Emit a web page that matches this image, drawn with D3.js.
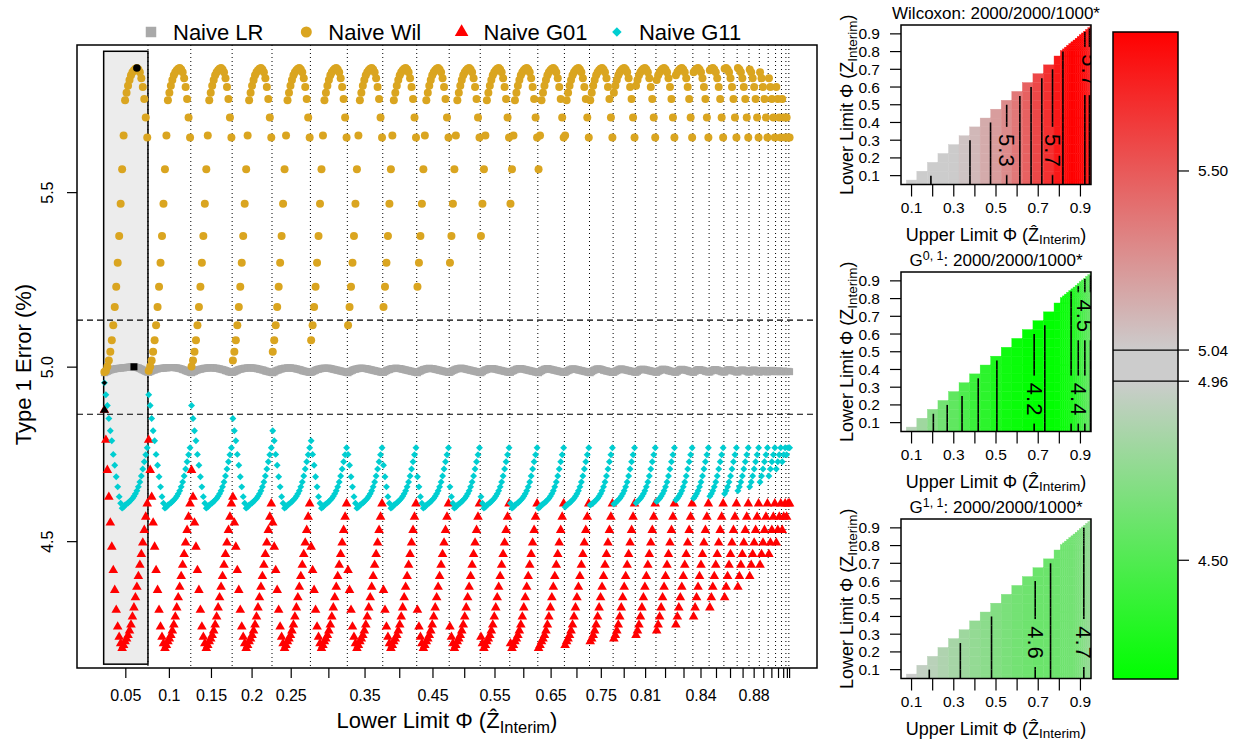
<!DOCTYPE html>
<html>
<head>
<meta charset="utf-8">
<script src="https://cdn.jsdelivr.net/npm/d3@7"></script>
<style>
  body { margin: 0; background: #fff; }
  svg { display: block; font-family: "Liberation Sans", Arial, Helvetica, sans-serif; }
</style>
</head>
<body>
<svg id="chart" width="1237" height="742"></svg>
<script>
// ---------------------------------------------------------------------------
// Data
// ---------------------------------------------------------------------------
// Grid of Φ(Ẑ_Interim) limits; a design uses lower limit < upper limit
const limitGrid = [0.05, 0.10, 0.15, 0.20, 0.25, 0.30, 0.35, 0.40, 0.45, 0.50, 0.55,
  0.60, 0.65, 0.70, 0.75, 0.80, 0.81, 0.82, 0.83, 0.84, 0.85, 0.86, 0.87, 0.88,
  0.89, 0.90, 0.91, 0.92, 0.93, 0.94, 0.95];
const lowerLimits = limitGrid.slice(0, 30);
const upperLimits = limitGrid.slice(1);

// Lower-limit tick labels that fit on the axis
const lowerTickLabelsShown = ["0.05", "0.1", "0.15", "0.2", "0.25", "0.35", "0.45",
  "0.55", "0.65", "0.75", "0.81", "0.84", "0.88"];

// Type 1 error (%) of the naive tests, one value per upper limit (0.10 … 0.95);
// the lower limit does not change these values
const wilcoxonError = [4.986, 4.990, 5.002, 5.019, 5.044, 5.077, 5.120, 5.172, 5.230,
  5.299, 5.376, 5.468, 5.567, 5.664, 5.765, 5.786, 5.806, 5.823, 5.836, 5.845, 5.851,
  5.855, 5.857, 5.853, 5.845, 5.828, 5.803, 5.768, 5.715, 5.658];
const g01Error = [4.877, 4.791, 4.705, 4.628, 4.554, 4.485, 4.418, 4.361, 4.304, 4.256,
  4.227, 4.208, 4.195, 4.203, 4.214, 4.222, 4.232, 4.245, 4.262, 4.285, 4.311, 4.340,
  4.370, 4.401, 4.433, 4.464, 4.497, 4.533, 4.571, 4.609];
const g11Error = [4.955, 4.921, 4.890, 4.853, 4.818, 4.789, 4.750, 4.719, 4.686, 4.657,
  4.629, 4.610, 4.596, 4.599, 4.605, 4.608, 4.611, 4.615, 4.619, 4.624, 4.630, 4.637,
  4.646, 4.657, 4.671, 4.688, 4.708, 4.729, 4.749, 4.769];

// Naive LR type 1 error (%), one row per lower limit, upper limits ascending
const lrRows = [
  [4.984,4.986,4.988,4.990,4.992,4.993,4.994,4.995,4.996,4.996,4.997,4.997,4.998,4.998,4.999,4.999,5.000,5.000,5.001,5.001,5.001,5.000,4.999,4.998,4.996,4.994,4.992,4.990,4.988,4.986],
  [4.985,4.987,4.989,4.991,4.992,4.994,4.995,4.996,4.996,4.997,4.997,4.998,4.998,4.998,4.999,4.999,4.999,4.999,4.998,4.998,4.997,4.996,4.995,4.993,4.992,4.990,4.988,4.987,4.985],
  [4.984,4.986,4.988,4.990,4.992,4.993,4.994,4.995,4.996,4.997,4.997,4.998,4.998,4.998,4.998,4.998,4.997,4.997,4.996,4.995,4.994,4.993,4.992,4.990,4.989,4.987,4.986,4.985],
  [4.985,4.987,4.989,4.991,4.993,4.994,4.995,4.996,4.997,4.997,4.998,4.998,4.998,4.998,4.997,4.997,4.996,4.995,4.994,4.993,4.992,4.991,4.989,4.988,4.987,4.986,4.985],
  [4.984,4.986,4.989,4.991,4.992,4.994,4.995,4.996,4.997,4.997,4.998,4.998,4.998,4.997,4.997,4.996,4.995,4.994,4.993,4.992,4.990,4.989,4.988,4.987,4.986,4.985],
  [4.985,4.987,4.989,4.991,4.993,4.994,4.995,4.996,4.997,4.997,4.997,4.997,4.997,4.996,4.995,4.994,4.993,4.992,4.991,4.990,4.989,4.988,4.987,4.986,4.985],
  [4.984,4.987,4.989,4.991,4.993,4.994,4.995,4.996,4.997,4.997,4.997,4.996,4.996,4.995,4.994,4.993,4.992,4.991,4.990,4.989,4.988,4.987,4.986,4.985],
  [4.985,4.987,4.990,4.992,4.993,4.995,4.996,4.996,4.997,4.997,4.996,4.996,4.995,4.994,4.993,4.992,4.991,4.990,4.989,4.988,4.987,4.986,4.985],
  [4.984,4.987,4.989,4.991,4.993,4.994,4.995,4.996,4.997,4.996,4.996,4.995,4.994,4.993,4.992,4.991,4.990,4.989,4.988,4.987,4.986,4.985],
  [4.985,4.988,4.990,4.992,4.994,4.995,4.996,4.997,4.997,4.996,4.995,4.994,4.993,4.992,4.991,4.990,4.989,4.988,4.987,4.986,4.985],
  [4.984,4.987,4.990,4.992,4.993,4.995,4.996,4.996,4.996,4.995,4.994,4.993,4.992,4.991,4.990,4.989,4.988,4.987,4.986,4.985],
  [4.985,4.988,4.990,4.992,4.994,4.995,4.996,4.996,4.995,4.994,4.993,4.992,4.991,4.990,4.989,4.988,4.987,4.986,4.985],
  [4.984,4.987,4.990,4.992,4.994,4.995,4.996,4.995,4.994,4.993,4.992,4.991,4.990,4.989,4.988,4.987,4.986,4.985],
  [4.985,4.988,4.990,4.992,4.994,4.995,4.995,4.994,4.993,4.992,4.991,4.990,4.989,4.988,4.987,4.986,4.985],
  [4.984,4.987,4.990,4.992,4.994,4.995,4.995,4.994,4.993,4.991,4.990,4.989,4.988,4.987,4.986,4.985],
  [4.985,4.988,4.990,4.992,4.994,4.995,4.994,4.993,4.992,4.991,4.990,4.989,4.988,4.987,4.986],
  [4.985,4.988,4.991,4.993,4.994,4.994,4.993,4.992,4.991,4.990,4.989,4.988,4.987,4.986],
  [4.985,4.988,4.990,4.992,4.994,4.994,4.993,4.992,4.990,4.989,4.988,4.987,4.986],
  [4.985,4.988,4.991,4.993,4.994,4.993,4.992,4.991,4.990,4.988,4.987,4.986],
  [4.985,4.988,4.991,4.993,4.993,4.992,4.991,4.990,4.988,4.987,4.986],
  [4.986,4.989,4.991,4.993,4.993,4.992,4.990,4.989,4.987,4.986],
  [4.986,4.989,4.992,4.993,4.992,4.991,4.989,4.988,4.986],
  [4.986,4.989,4.991,4.992,4.991,4.990,4.988,4.986],
  [4.986,4.989,4.991,4.992,4.990,4.988,4.986],
  [4.986,4.989,4.991,4.990,4.988,4.986],
  [4.987,4.990,4.991,4.989,4.987],
  [4.987,4.990,4.989,4.987],
  [4.987,4.989,4.987],
  [4.987,4.988],
  [4.987]
];

// Designs marked in black: [lower limit, upper limit]
const markedDesigns = { lr: [0.05, 0.86], wil: [0.05, 0.88], g01: [0.05, 0.10], g11: [0.05, 0.10] };

// Lower limit whose designs are shaded, and the error range the shading spans
const shadedLower = 0.05;
const shadedErrorRange = [4.149, 5.905];

// Tolerance lines around the nominal 5 %
const toleranceLines = [4.865, 5.135];

// Main y-axis ticks
const errorTicks = [4.5, 5.0, 5.5];

// Heat-map axis ticks
const limitTicks = [0.1, 0.2, 0.3, 0.4, 0.5, 0.6, 0.7, 0.8, 0.9];
const limitTickLabelsShown = [0.1, 0.3, 0.5, 0.7, 0.9];

// Colour bar
const neutralBand = [4.96, 5.04];
const colorbarTicks = [4.50, 4.96, 5.04, 5.50];

// Contour levels and the contours that carry a label
const wilLevels = [5.0, 5.1, 5.2, 5.3, 5.4, 5.5, 5.6, 5.7, 5.8];
const g01Levels = [4.2, 4.3, 4.4, 4.5, 4.6, 4.7, 4.8];
const g11Levels = [4.6, 4.7, 4.8, 4.9];
const wilLabels = [{ level: 5.3, upper: 0.55, lower: 0.24 }, { level: 5.7, upper: 0.77, lower: 0.24 }, { level: 5.7, upper: 0.94, lower: 0.69 }];
const g01Labels = [{ level: 4.2, upper: 0.68, lower: 0.23 }, { level: 4.4, upper: 0.89, lower: 0.23 }, { level: 4.5, upper: 0.92, lower: 0.70 }];
const g11Labels = [{ level: 4.6, upper: 0.69, lower: 0.25 }, { level: 4.7, upper: 0.91, lower: 0.25 }];

// ---------------------------------------------------------------------------
// Styling
// ---------------------------------------------------------------------------
const COL = { lr: "#a9a9a9", wil: "#daa520", g01: "#ff0000", g11: "#00ced1" };
const GRAY = "#cccccc";
const svg = d3.select("#chart");

// ---------------------------------------------------------------------------
// Flatten designs: every (lower, upper) pair in lower-major order
// ---------------------------------------------------------------------------
const designs = [];
const segments = [];
lowerLimits.forEach((lo, i) => {
  const start = designs.length + 1;
  for (let j = i + 1; j < limitGrid.length; j++) {
    designs.push({
      idx: designs.length + 1, i, j, lower: lo, upper: limitGrid[j],
      lr: lrRows[i][j - i - 1],
      wil: wilcoxonError[j - 1],
      g01: g01Error[j - 1],
      g11: g11Error[j - 1]
    });
  }
  segments.push({ lower: lo, start, end: designs.length });
});

// ---------------------------------------------------------------------------
// Main panel
// ---------------------------------------------------------------------------
const M = { left: 77, right: 817, top: 45, bottom: 668 };
const n = designs.length;
const x = d3.scaleLinear().domain([1 - 0.04 * (n - 1), n + 0.04 * (n - 1)]).range([M.left, M.right]);
const y = d3.scaleLinear().domain([4.138, 5.923]).range([M.bottom, M.top]);

const gMain = svg.append("g");

// shaded block of designs
const shadedSeg = segments.find(s => s.lower === shadedLower);
gMain.append("rect")
  .attr("x", x(shadedSeg.start - 0.5)).attr("width", x(shadedSeg.end + 0.5) - x(shadedSeg.start - 0.5))
  .attr("y", y(shadedErrorRange[1])).attr("height", y(shadedErrorRange[0]) - y(shadedErrorRange[1]))
  .attr("fill", "#ececec").attr("stroke", "#000").attr("stroke-width", 1.5);

// dotted separators between lower limits
gMain.selectAll("line.sep").data(segments.slice(1)).join("line")
  .attr("x1", d => x(d.start - 0.5)).attr("x2", d => x(d.start - 0.5))
  .attr("y1", M.top).attr("y2", M.bottom)
  .attr("stroke", "#000").attr("stroke-width", 1).attr("stroke-dasharray", "1,3");

// tolerance lines
gMain.selectAll("line.tol").data(toleranceLines).join("line")
  .attr("x1", M.left).attr("x2", M.right)
  .attr("y1", d => y(d)).attr("y2", d => y(d))
  .attr("stroke", "#000").attr("stroke-width", 1.2).attr("stroke-dasharray", "6,4");

// point symbols
const sym = {
  lr: d3.symbol().type(d3.symbolSquare).size(49)(),
  g01: d3.symbol().type(d3.symbolTriangle).size(40)(),
  g11: d3.symbol().type(d3.symbolSquare).size(24)()
};
const pts = gMain.append("g");
pts.selectAll("path.lr").data(designs).join("path")
  .attr("d", sym.lr).attr("fill", COL.lr)
  .attr("transform", d => `translate(${x(d.idx)},${y(d.lr)})`);
pts.selectAll("circle.wil").data(designs).join("circle")
  .attr("cx", d => x(d.idx)).attr("cy", d => y(d.wil)).attr("r", 4).attr("fill", COL.wil);
pts.selectAll("path.g01").data(designs).join("path")
  .attr("d", sym.g01).attr("fill", COL.g01)
  .attr("transform", d => `translate(${x(d.idx)},${y(d.g01)})`);
pts.selectAll("path.g11").data(designs).join("path")
  .attr("d", sym.g11).attr("fill", COL.g11)
  .attr("transform", d => `translate(${x(d.idx)},${y(d.g11)}) rotate(45)`);

// marked designs in black
const findDesign = ([lo, up]) => designs.find(d => Math.abs(d.lower - lo) < 1e-9 && Math.abs(d.upper - up) < 1e-9);
{
  const dl = findDesign(markedDesigns.lr), dw = findDesign(markedDesigns.wil);
  const d1 = findDesign(markedDesigns.g01), d2 = findDesign(markedDesigns.g11);
  pts.append("path").attr("d", sym.lr).attr("fill", "#000").attr("transform", `translate(${x(dl.idx)},${y(dl.lr)})`);
  pts.append("circle").attr("cx", x(dw.idx)).attr("cy", y(dw.wil)).attr("r", 3.8).attr("fill", "#000");
  pts.append("path").attr("d", d3.symbol().type(d3.symbolTriangle).size(34)()).attr("fill", "#000").attr("transform", `translate(${x(d1.idx)},${y(d1.g01)})`);
  pts.append("path").attr("d", d3.symbol().type(d3.symbolSquare).size(14)()).attr("fill", "#000").attr("transform", `translate(${x(d2.idx)},${y(d2.g11)}) rotate(45)`);
}

// frame
gMain.append("rect").attr("x", M.left).attr("y", M.top).attr("width", M.right - M.left).attr("height", M.bottom - M.top)
  .attr("fill", "none").attr("stroke", "#000").attr("stroke-width", 1.5);

// y axis
const yAx = gMain.append("g");
errorTicks.forEach(t => {
  yAx.append("line").attr("x1", M.left - 10).attr("x2", M.left).attr("y1", y(t)).attr("y2", y(t)).attr("stroke", "#000").attr("stroke-width", 1.2);
  yAx.append("text").attr("transform", `translate(53,${y(t)}) rotate(-90)`).attr("text-anchor", "middle")
    .attr("font-size", 16).text(d3.format(".1f")(t));
});
gMain.append("text").attr("transform", `translate(31,${(M.top + M.bottom) / 2 + 8}) rotate(-90)`)
  .attr("text-anchor", "middle").attr("font-size", 22).text("Type 1 Error (%)");

// x axis: one tick per lower limit
const xAx = gMain.append("g");
segments.forEach(s => {
  const cx = x((s.start + s.end) / 2);
  xAx.append("line").attr("x1", cx).attr("x2", cx).attr("y1", M.bottom).attr("y2", M.bottom + 10).attr("stroke", "#000").attr("stroke-width", 1.2);
  const lab = String(s.lower);
  if (lowerTickLabelsShown.includes(lab)) {
    xAx.append("text").attr("x", cx).attr("y", 700.5).attr("text-anchor", "middle").attr("font-size", 16).text(lab);
  }
});

// axis title with hat and subscript
function limitTitle(textSel, prefix, fs, hat) {
  textSel.append("tspan").text(prefix + " Φ (");
  textSel.append("tspan").text(hat ? "Ẑ" : "Z");
  textSel.append("tspan").attr("font-size", fs * 0.75).attr("dy", fs * 0.22).text("Interim");
  textSel.append("tspan").attr("dy", -fs * 0.22).text(")");
}
limitTitle(gMain.append("text").attr("x", (M.left + M.right) / 2).attr("y", 728)
  .attr("text-anchor", "middle").attr("font-size", 22), "Lower Limit", 22, true);

// legend
const legendItems = [
  { key: "lr", label: "Naive LR" }, { key: "wil", label: "Naive Wil" },
  { key: "g01", label: "Naive G01" }, { key: "g11", label: "Naive G11" }
];
const lg = svg.append("g");
legendItems.forEach((it, k) => {
  const sx = 151 + k * 155.3, sy = 32;
  if (it.key === "lr") lg.append("path").attr("d", d3.symbol().type(d3.symbolSquare).size(110)()).attr("fill", COL.lr).attr("transform", `translate(${sx},${sy})`);
  if (it.key === "wil") lg.append("circle").attr("cx", sx).attr("cy", sy).attr("r", 5.5).attr("fill", COL.wil);
  if (it.key === "g01") lg.append("path").attr("d", d3.symbol().type(d3.symbolTriangle).size(80)()).attr("fill", COL.g01).attr("transform", `translate(${sx},${sy})`);
  if (it.key === "g11") lg.append("path").attr("d", d3.symbol().type(d3.symbolSquare).size(45)()).attr("fill", COL.g11).attr("transform", `translate(${sx},${sy}) rotate(45)`);
  lg.append("text").attr("x", sx + 22).attr("y", sy + 8).attr("font-size", 22).text(it.label);
});

// ---------------------------------------------------------------------------
// Colour scale shared by heat maps and colour bar
// ---------------------------------------------------------------------------
const allHeat = wilcoxonError.concat(g01Error, g11Error);
const zMin = d3.min(allHeat), zMax = d3.max(allHeat);
function errColor(v) {
  if (v > neutralBand[1]) return d3.interpolateRgb(GRAY, "#ff0000")((v - neutralBand[1]) / (zMax - neutralBand[1]));
  if (v < neutralBand[0]) return d3.interpolateRgb(GRAY, "#00ff00")((neutralBand[0] - v) / (neutralBand[0] - zMin));
  return GRAY;
}

// ---------------------------------------------------------------------------
// Heat-map panels
// ---------------------------------------------------------------------------
const cellLow = k => k === 0 ? limitGrid[0] - (limitGrid[1] - limitGrid[0]) / 2 : (limitGrid[k - 1] + limitGrid[k]) / 2;
const cellHigh = k => k === limitGrid.length - 1 ? limitGrid[k] + (limitGrid[k] - limitGrid[k - 1]) / 2 : (limitGrid[k] + limitGrid[k + 1]) / 2;

function contourSegments(vals, level) {
  const segs = [];
  const G = limitGrid;
  for (let j = 1; j < G.length - 1; j++) {
    for (let i = 0; i + 1 < j; i++) {
      const c = [[G[j], G[i], vals[j - 1]], [G[j + 1], G[i], vals[j]], [G[j + 1], G[i + 1], vals[j]], [G[j], G[i + 1], vals[j - 1]]];
      const p = [];
      for (let e = 0; e < 4; e++) {
        const a = c[e], b = c[(e + 1) % 4];
        if ((a[2] < level) !== (b[2] < level)) {
          const t = (level - a[2]) / (b[2] - a[2]);
          p.push([a[0] + t * (b[0] - a[0]), a[1] + t * (b[1] - a[1])]);
        }
      }
      if (p.length === 2) segs.push(p);
      else if (p.length === 4) { segs.push([p[0], p[1]]); segs.push([p[2], p[3]]); }
    }
  }
  return segs;
}

function heatPanel(id, top, titleParts, vals, levels, labels) {
  const P = { left: 901, right: 1091, top, bottom: top + 159.5 };
  const hx = d3.scaleLinear().domain([0.05, 0.95]).range([P.left, P.right]);
  const hy = d3.scaleLinear().domain([0.05, 0.95]).range([P.bottom, P.top]);
  const g = svg.append("g");
  const defs = svg.append("defs");
  defs.append("clipPath").attr("id", "clip" + id).append("rect")
    .attr("x", P.left).attr("y", P.top).attr("width", P.right - P.left).attr("height", P.bottom - P.top);

  const body = g.append("g").attr("clip-path", `url(#clip${id})`);
  const cells = [];
  for (let i = 0; i < lowerLimits.length; i++)
    for (let j = i + 1; j < limitGrid.length; j++) cells.push({ i, j, v: vals[j - 1] });
  body.selectAll("rect").data(cells).join("rect")
    .attr("x", d => hx(cellLow(d.j))).attr("width", d => hx(cellHigh(d.j)) - hx(cellLow(d.j)))
    .attr("y", d => hy(cellHigh(d.i))).attr("height", d => hy(cellLow(d.i)) - hy(cellHigh(d.i)))
    .attr("fill", d => errColor(d.v)).attr("stroke", d => errColor(d.v)).attr("stroke-width", 0.4);

  // contour labels, positioned on their contour line
  const fsLab = 22;
  const placed = [];
  labels.forEach(lb => {
    const segs = contourSegments(vals, lb.level).filter(s => Math.min(s[0][1], s[1][1]) <= lb.lower && Math.max(s[0][1], s[1][1]) >= lb.lower);
    const best = d3.least(segs, s => Math.abs((s[0][0] + s[1][0]) / 2 - lb.upper));
    if (!best) return;
    const t = (lb.lower - best[0][1]) / ((best[1][1] - best[0][1]) || 1);
    placed.push({ text: d3.format(".1f")(lb.level), px: hx(best[0][0] + t * (best[1][0] - best[0][0])), py: hy(lb.lower) });
  });

  const mask = defs.append("mask").attr("id", "mask" + id).attr("maskUnits", "userSpaceOnUse")
    .attr("x", 0).attr("y", 0).attr("width", 1237).attr("height", 742);
  mask.append("rect").attr("x", 0).attr("y", 0).attr("width", 1237).attr("height", 742).attr("fill", "#fff");
  placed.forEach(p => mask.append("rect").attr("x", p.px - 9).attr("y", p.py - 24).attr("width", 18).attr("height", 48).attr("fill", "#000"));

  const lines = body.append("g").attr("mask", `url(#mask${id})`);
  levels.forEach(lv => {
    contourSegments(vals, lv).forEach(s => {
      lines.append("line").attr("x1", hx(s[0][0])).attr("y1", hy(s[0][1])).attr("x2", hx(s[1][0])).attr("y2", hy(s[1][1]))
        .attr("stroke", "#000").attr("stroke-width", 1.6);
    });
  });
  placed.forEach(p => {
    body.append("text").attr("transform", `translate(${p.px},${p.py}) rotate(90)`)
      .attr("text-anchor", "middle").attr("dominant-baseline", "central")
      .attr("font-size", fsLab).attr("letter-spacing", 1).text(p.text);
  });

  // frame and axes
  g.append("rect").attr("x", P.left).attr("y", P.top).attr("width", P.right - P.left).attr("height", P.bottom - P.top)
    .attr("fill", "none").attr("stroke", "#000").attr("stroke-width", 1.5);
  limitTicks.forEach(t => {
    g.append("line").attr("x1", P.left - 11).attr("x2", P.left).attr("y1", hy(t)).attr("y2", hy(t)).attr("stroke", "#000").attr("stroke-width", 1.2);
    g.append("text").attr("x", P.left - 21).attr("y", hy(t) + 5.5).attr("text-anchor", "end").attr("font-size", 15.5).text(String(t));
    g.append("line").attr("x1", hx(t)).attr("x2", hx(t)).attr("y1", P.bottom).attr("y2", P.bottom + 12).attr("stroke", "#000").attr("stroke-width", 1.2);
    if (limitTickLabelsShown.includes(t))
      g.append("text").attr("x", hx(t)).attr("y", P.bottom + 28.5).attr("text-anchor", "middle").attr("font-size", 15.5).text(String(t));
  });
  limitTitle(g.append("text").attr("x", (P.left + P.right) / 2).attr("y", P.bottom + 56)
    .attr("text-anchor", "middle").attr("font-size", 18), "Upper Limit", 18, true);
  limitTitle(g.append("text").attr("transform", `translate(853,${(P.top + P.bottom) / 2}) rotate(-90)`)
    .attr("text-anchor", "middle").attr("font-size", 18), "Lower Limit", 18, false);

  const tt = g.append("text").attr("x", (P.left + P.right) / 2).attr("y", P.top - 6)
    .attr("text-anchor", "middle").attr("font-size", 17);
  tt.append("tspan").text(titleParts[0]);
  if (titleParts[1]) tt.append("tspan").attr("font-size", 12.5).attr("dy", -6.5).text(titleParts[1]);
  tt.append("tspan").attr("dy", titleParts[1] ? 6.5 : 0).text(titleParts[2]);
}

heatPanel("w", 25, ["Wilcoxon", "", ": 2000/2000/1000*"], wilcoxonError, wilLevels, wilLabels);
heatPanel("a", 272, ["G", "0, 1", ": 2000/2000/1000*"], g01Error, g01Levels, g01Labels);
heatPanel("b", 519, ["G", "1, 1", ": 2000/2000/1000*"], g11Error, g11Levels, g11Labels);

// ---------------------------------------------------------------------------
// Colour bar
// ---------------------------------------------------------------------------
const CB = { left: 1113, right: 1178, top: 32, bottom: 679 };
const cy = d3.scaleLinear().domain([zMin, zMax]).range([CB.bottom, CB.top]);
const grad = svg.append("defs").append("linearGradient").attr("id", "cbar")
  .attr("x1", 0).attr("y1", 0).attr("x2", 0).attr("y2", 1);
const off = v => (cy(v) - CB.top) / (CB.bottom - CB.top);
[[zMax, "#ff0000"], [neutralBand[1], GRAY], [neutralBand[0], GRAY], [zMin, "#00ff00"]]
  .forEach(([v, c]) => grad.append("stop").attr("offset", off(v)).attr("stop-color", c));
svg.append("rect").attr("x", CB.left).attr("y", CB.top).attr("width", CB.right - CB.left).attr("height", CB.bottom - CB.top)
  .attr("fill", "url(#cbar)").attr("stroke", "#000").attr("stroke-width", 1.5);
neutralBand.forEach(v => svg.append("line").attr("x1", CB.left).attr("x2", CB.right).attr("y1", cy(v)).attr("y2", cy(v))
  .attr("stroke", "#000").attr("stroke-width", 1.2));
colorbarTicks.forEach(t => {
  svg.append("line").attr("x1", CB.right).attr("x2", CB.right + 11).attr("y1", cy(t)).attr("y2", cy(t)).attr("stroke", "#000").attr("stroke-width", 1.2);
  svg.append("text").attr("x", CB.right + 20).attr("y", cy(t) + 5.5).attr("font-size", 15.5).text(d3.format(".2f")(t));
});
</script>
</body>
</html>
